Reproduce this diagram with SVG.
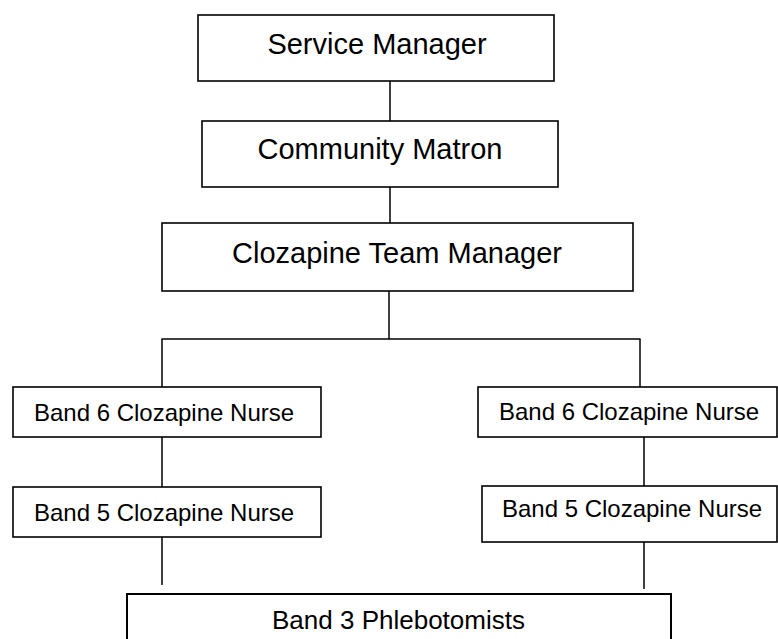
<svg xmlns="http://www.w3.org/2000/svg" width="778" height="639" viewBox="0 0 778 639">
<style>
rect{fill:#fff;stroke:#000;stroke-width:1.6}
.c line{stroke:#000;stroke-width:1.5}
text{font-family:"Liberation Sans",Arial,sans-serif;fill:#000;text-anchor:middle}
.l{font-size:29px}
.s{font-size:24px}
.m{font-size:26px}
</style>
<rect x="0" y="0" width="778" height="639" style="fill:#fff;stroke:none"/>
<g class="c" id="connectors">
<line x1="390" y1="81" x2="390" y2="121"/>
<line x1="390" y1="187" x2="390" y2="223"/>
<line x1="389" y1="291" x2="389" y2="339"/>
<line x1="161.5" y1="339" x2="640.5" y2="339"/>
<line x1="162" y1="339" x2="162" y2="387"/>
<line x1="640" y1="339" x2="640" y2="387"/>
<line x1="162" y1="437" x2="162" y2="487"/>
<line x1="644" y1="437" x2="644" y2="486"/>
<line x1="162" y1="537" x2="162" y2="585"/>
<line x1="644" y1="542" x2="644" y2="589"/>
</g>
<g id="service-manager"><rect x="198" y="15" width="356" height="66"/><text class="l" x="377" y="54">Service Manager</text></g>
<g id="community-matron"><rect x="202" y="121" width="356" height="66"/><text class="l" x="380" y="159">Community Matron</text></g>
<g id="clozapine-team-manager"><rect x="162" y="223" width="471" height="68"/><text class="l" x="397" y="263">Clozapine Team Manager</text></g>
<g id="band6-left"><rect x="13" y="387" width="308" height="50"/><text class="s" x="164" y="421">Band 6 Clozapine Nurse</text></g>
<g id="band5-left"><rect x="13" y="487" width="308" height="50"/><text class="s" x="164" y="521">Band 5 Clozapine Nurse</text></g>
<g id="band6-right"><rect x="478" y="387" width="299" height="50"/><text class="s" x="629" y="420">Band 6 Clozapine Nurse</text></g>
<g id="band5-right"><rect x="482" y="486" width="295" height="56"/><text class="s" x="632" y="517">Band 5 Clozapine Nurse</text></g>
<g id="band3-phlebotomists"><rect x="127" y="594" width="544" height="70" style="stroke-width:2"/><text class="m" x="398.5" y="629">Band 3 Phlebotomists</text></g>
</svg>
